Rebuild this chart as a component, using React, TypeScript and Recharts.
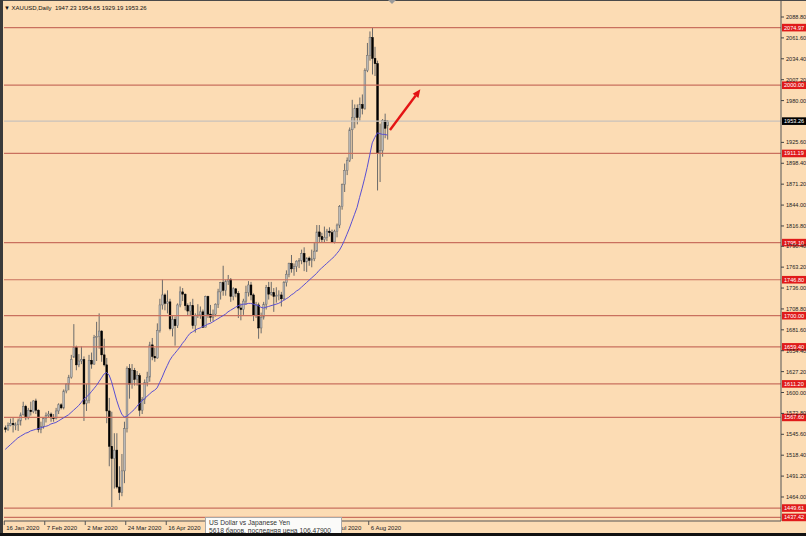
import React from 'react';
import { ComposedChart, Bar, Line, XAxis, YAxis, ReferenceLine } from 'recharts';

// ---- data (XAUUSD daily, 16 Jan 2020 .. 17 Aug 2020) ----
const opens = [
  1554,1552,1557,1560,1558,1558,1563,1571,1582,1567,1577,1575,
  1589,1577,1552,1556,1566,1570,1572,1567,1566,1576,1584,
  1580,1602,1611,1620,1646,1659,1636,1641,1643,
  1586,1590,1642,1637,1672,1673,1680,1649,1636,1576,1530,1514,1525,1477,1470,
  1498,1553,1631,1611,1629,1617,1622,1577,1591,1613,1620,1662,1647,1645,
  1681,1714,1727,1716,1718,1683,1695,1687,1714,1731,1728,1713,1706,1713,1687,
  1700,1701,1705,1685,1725,1702,1698,1702,1715,1731,1743,1733,1745,1747,1725,1735,1729,1710,1708,1719,
  1730,1740,1727,1700,1714,1684,1698,1715,1737,1728,1730,1725,1726,1727,1722,
  1743,1754,1768,1761,1764,1771,1772,1781,1770,1775,1772,1774,1784,1809,1803,1799,1802,1810,1808,1796,
  1810,1818,1842,1871,1889,1902,1942,1958,1970,1958,1975,1970,2019,2039,2062,2035,2028,1911,1915,1954,1947.23,
];
const highs = [
  1557,1561,1566,1568,1561,1566,1574,1588,1584,1580,1588,1590,
  1592,1578,1562,1568,1574,1576,1574,1572,1580,1586,1586,
  1604,1612,1623,1649,1689,1661,1650,1660,1647,
  1611,1649,1652,1675,1692,1703,1681,1670,1645,1593,1575,1547,1547,1504,1520,
  1562,1634,1637,1637,1632,1628,1625,1594,1617,1627,1666,1671,1658,1690,
  1722,1747,1729,1733,1722,1700,1699,1716,1738,1736,1729,1716,1718,1722,1703,
  1715,1712,1708,1726,1726,1714,1708,1716,1735,1744,1765,1747,1753,1749,1737,1736,1732,1716,1722,1739,
  1745,1744,1729,1718,1717,1704,1718,1740,1744,1744,1736,1737,1733,1731,1745,
  1759,1769,1779,1768,1772,1775,1786,1789,1776,1777,1786,1796,1818,1818,1808,1816,1813,1815,1812,1812,
  1820,1844,1872,1898,1906,1945,1981,1975,1975,1984,1988,2022,2055,2070,2075,2050,2032,1950,1956,1963,1954.65,
];
const lows = [
  1548,1550,1556,1548,1551,1550,1557,1570,1564,1565,1570,1573,
  1572,1548,1547,1553,1561,1567,1562,1562,1565,1572,1578,
  1578,1599,1603,1618,1645,1629,1633,1637,1563,
  1576,1586,1631,1636,1641,1657,1640,1634,1560,1504,1451,1475,1475,1460,1465,
  1482,1548,1592,1605,1609,1609,1569,1572,1585,1608,1614,1642,1640,1644,
  1678,1708,1707,1703,1681,1673,1661,1684,1711,1719,1707,1700,1700,1683,1678,
  1697,1696,1684,1685,1697,1692,1693,1699,1710,1721,1726,1726,1740,1718,1720,1724,1697,1694,1701,1714,
  1725,1720,1693,1697,1670,1677,1695,1708,1721,1726,1705,1717,1720,1712,1720,
  1738,1750,1756,1752,1757,1762,1767,1758,1757,1765,1763,1771,1783,1795,1795,1795,1797,1803,1795,1794,
  1802,1814,1838,1861,1883,1900,1904,1944,1949,1954,1962,1968,2017,2032,2014,2012,1863,1874,1907,1931,1929.19,
];
const closes = [
  1552,1557,1560,1558,1558,1563,1571,1582,1567,1577,1575,1589,
  1577,1552,1556,1566,1570,1572,1567,1566,1576,1584,1580,
  1602,1611,1620,1643,1659,1636,1641,1643,1585,
  1590,1642,1637,1672,1673,1680,1649,1636,1576,1530,1514,1525,1477,1470,1498,
  1553,1631,1611,1629,1617,1622,1577,1591,1613,1620,1662,1647,1645,1681,
  1714,1727,1716,1718,1683,1695,1687,1714,1731,1728,1713,1706,1713,1687,1700,
  1701,1705,1685,1725,1702,1698,1702,1715,1731,1743,1733,1745,1747,1725,1735,1729,1710,1708,1719,1730,
  1740,1727,1700,1714,1684,1698,1715,1737,1728,1730,1725,1726,1727,1722,1743,
  1754,1768,1761,1764,1771,1772,1781,1770,1775,1772,1774,1784,1809,1803,1799,1802,1810,1808,1796,1810,
  1818,1842,1871,1889,1902,1942,1958,1970,1958,1975,1970,2019,2039,2062,2035,2028,1911,1915,1954,1944,1953.26,
];
// moving average line
const maValues = [
  1526,1529,1532,1535,1538,1541,1543,1545,1547,1548,1550,1551,1552,1553,1554,
  1555,1556,1557,1559,1560,1561,1563,1565,1567,1569,
  1571,1574,1577,1580,1583,1587,
  1591,1594,1597,
  1601,1605,1609,1614,1619,1624,1626,1623,
  1614,1602,1590,1580,1572,1568,
  1569,1572,1575,1578,1582,1586,
  1589,1592,1595,1598,1601,1603,1606,
  1613,1620,1628,1635,1642,
  1647,1651,1655,1659,
  1664,1668,1673,1677,
  1679,1681,1683,1684,
  1686,1687,1689,1690,
  1692,1694,1696,1698,1700,1702,1705,1707,
  1709,1711,1713,1714,
  1715,1715,1716,1716,1715,
  1714,1713,1711,1710,
  1711,1712,1713,1714,
  1715,1716,1718,1720,
  1722,1724,1727,1729,1732,1734,1737,
  1740,1743,1746,1749,1752,1755,1759,
  1762,1765,1768,1771,1774,1777,1781,1785,
  1791,1798,1806,1814,1823,1832,1841,
  1854,1866,1879,1893,
  1909,1925,1932,1938,
  1937,1936,1936,1935,
];
// date labels visible on the time axis (the ones between 16 Apr and 15 Jul are hidden under the hover box)
const dateTickIdx = [0, 16, 32, 48, 64, 128, 144];
const dateTickLabels = ['16 Jan 2020','7 Feb 2020','2 Mar 2020','24 Mar 2020','16 Apr 2020','15 Jul 2020','6 Aug 2020'];
const priceTicks = [2088.8,2061.6,2034.4,2007.2,1980.0,1925.6,1898.4,1871.2,1844.0,1816.8,1790.4,1763.2,1736.0,1708.8,1681.6,1654.4,1627.2,1600.0,1572.8,1545.6,1518.4,1491.2,1464.0];
const levelLines = [2074.97, 2000.0, 1911.19, 1795.1, 1746.8, 1700.0, 1659.4, 1611.2, 1567.6, 1449.61, 1437.42];
const bidPrice = 1953.26;
const arrowFrom = { idx: 152, price: 1941.6 };
const arrowTo = { idx: 164, price: 1994.6 };
const TOTAL_SLOTS = 307;

const rows: any[] = [];
for (let i = 0; i < TOTAL_SLOTS; i++) {
  if (i < closes.length) {
    rows.push({ idx: i, o: opens[i], h: highs[i], l: lows[i], c: closes[i], range: [lows[i], highs[i]], ma: maValues[i] });
  } else {
    rows.push({ idx: i });
  }
}

const FONT = '"Liberation Sans", Arial, sans-serif';
const BG = '#FCDCB4';
const LEVEL_COLOR = '#c9705e';

const Candle = (props: any) => {
  const { x, y, width, height, payload } = props;
  if (!payload || payload.o == null || !height || isNaN(y)) return <g />;
  const { o, h, l, c } = payload;
  const k = height / (h - l);
  const cx = x + width / 2;
  const yo = y + (h - o) * k;
  const yc = y + (h - c) * k;
  const top = Math.min(yo, yc);
  const bot = Math.max(yo, yc);
  const bull = c >= o;
  return (
    <g>
      <line x1={cx} x2={cx} y1={y} y2={y + height} stroke="#6a6a6a" strokeWidth={1} />
      <rect x={cx - 0.9} y={top} width={1.8} height={Math.max(bot - top, 0.8)}
        fill={bull ? '#b9b9b9' : '#000000'} stroke={bull ? '#6e6e6e' : '#000000'} strokeWidth={0.5} />
    </g>
  );
};

const YTick = (props: any) => {
  const { x, y, payload } = props;
  return (
    <g>
      <line x1={x} x2={x + 3} y1={y} y2={y} stroke="#444" strokeWidth={1} />
      <text x={x + 5} y={y + 2} fontSize={5.6} fontFamily={FONT} fill="#222">{payload.value.toFixed(2)}</text>
    </g>
  );
};

const XTick = (props: any) => {
  const { x, y, payload } = props;
  const pos = dateTickIdx.indexOf(payload.value);
  const label = pos >= 0 ? dateTickLabels[pos] : '';
  return (
    <g>
      <line x1={x - 1} x2={x - 1} y1={y} y2={y + 4} stroke="#555" strokeWidth={1} />
      <text x={x + 1} y={y + 8.5} fontSize={6} fontFamily={FONT} fill="#222">{label}</text>
    </g>
  );
};

const levelShape = (value: number, boxFill: string, lineColor: string) => (p: any) => {
  const { x1, y1, x2, y2 } = p;
  const right = Math.max(x1, x2);
  return (
    <g>
      <line x1={x1} y1={y1} x2={x2} y2={y2} stroke={lineColor} strokeWidth={1.2} />
      <rect x={right + 1} y={y1 - 3.8} width={26} height={7.6} fill={boxFill} />
      <text x={right + 3} y={y1 + 2} fontSize={5.6} fontFamily={FONT} fill="#ffffff">{value.toFixed(2)}</text>
    </g>
  );
};

const arrowShape = (p: any) => {
  let { x1, y1, x2, y2 } = p;
  if (x1 > x2) { [x1, x2] = [x2, x1]; [y1, y2] = [y2, y1]; }
  const ang = Math.atan2(y2 - y1, x2 - x1);
  const L = 8, W = 3.6;
  const bx = x2 - L * Math.cos(ang), by = y2 - L * Math.sin(ang);
  const px = -Math.sin(ang), py = Math.cos(ang);
  return (
    <g>
      <line x1={x1} y1={y1} x2={bx} y2={by} stroke="#e41414" strokeWidth={2.4} />
      <polygon points={`${x2},${y2} ${bx + px * W},${by + py * W} ${bx - px * W},${by - py * W}`} fill="#e41414" />
    </g>
  );
};

export default function App() {
  return (
    <div style={{ position: 'absolute', left: 0, top: 0, width: 806, height: 536, background: BG, overflow: 'hidden', fontFamily: FONT }}>
      <ComposedChart width={806} height={536} data={rows} margin={{ top: 0, right: 0, bottom: 0, left: 4 }} barCategoryGap={0}>
        <XAxis dataKey="idx" type="category" ticks={dateTickIdx} interval={0} tick={<XTick />} tickLine={false}
          tickSize={0} tickMargin={0} height={15} axisLine={{ stroke: '#555' }} />
        <YAxis orientation="right" type="number" domain={[1432.75, 2110.93]} allowDataOverflow ticks={priceTicks}
          interval={0} tick={<YTick />} tickLine={false} tickSize={0} tickMargin={0} width={25} axisLine={{ stroke: '#555' }} />
        <ReferenceLine y={bidPrice} shape={levelShape(bidPrice, '#000000', '#c8c2bb')} />
        {levelLines.map((v) => (
          <ReferenceLine key={v} y={v} shape={levelShape(v, '#e01a1a', LEVEL_COLOR)} />
        ))}
        <Bar dataKey="range" shape={<Candle />} isAnimationActive={false} />
        <Line dataKey="ma" type="linear" dot={false} stroke="#5a4fd2" strokeWidth={1} isAnimationActive={false} connectNulls={false} />
        <ReferenceLine segment={[{ x: arrowFrom.idx, y: arrowFrom.price }, { x: arrowTo.idx, y: arrowTo.price }]} shape={arrowShape} />
      </ComposedChart>
      {/* header */}
      <div style={{ position: 'absolute', left: 4, top: 4, fontSize: 6, color: '#111', whiteSpace: 'pre', lineHeight: '8px' }}>
        {'\u25BC XAUUSD,Daily  1947.23 1954.65 1929.19 1953.26'}
      </div>
      {/* frame pieces */}
      <div style={{ position: 'absolute', left: 0, top: 0, width: 806, height: 1, background: '#4a4a4a' }} />
      <div style={{ position: 'absolute', left: 0, top: 0, width: 3, height: 536, background: '#3a3a3a' }} />
      <div style={{ position: 'absolute', left: 388, top: 0, width: 0, height: 0, borderLeft: '4px solid transparent', borderRight: '4px solid transparent', borderTop: '4px solid #9a9a9a' }} />
      {/* hover tooltip */}
      <div style={{ position: 'absolute', left: 205, top: 517, width: 137, height: 24, background: '#fbfbf9', border: '1px solid #a8a8a8', fontSize: 6.7, color: '#333', lineHeight: '8px', padding: '1px 3px', boxSizing: 'border-box', whiteSpace: 'nowrap' }}>
        <div>US Dollar vs Japanese Yen</div>
        <div>5618 баров, последняя цена 106.47900</div>
      </div>
      <div style={{ position: 'absolute', left: 0, top: 533, width: 806, height: 3, background: '#111' }} />
    </div>
  );
}
